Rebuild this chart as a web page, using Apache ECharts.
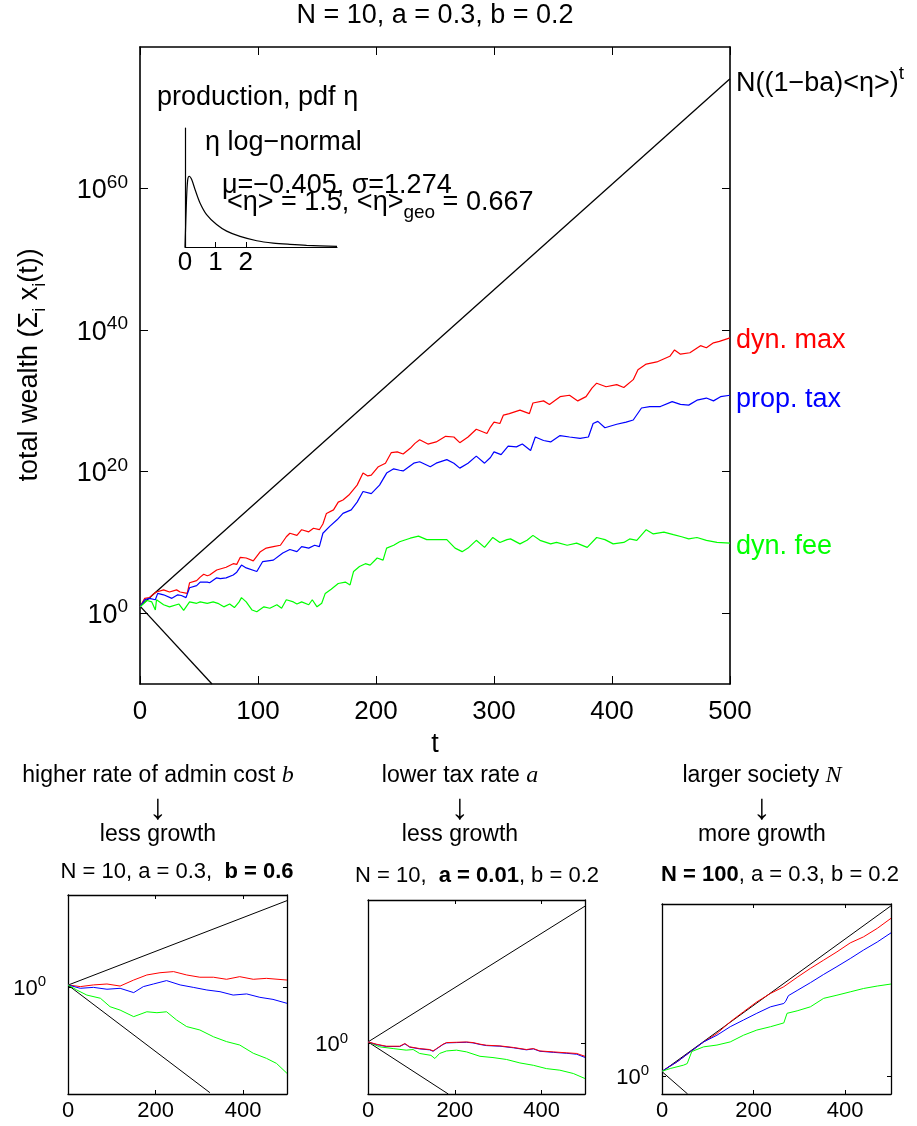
<!DOCTYPE html>
<html>
<head>
<meta charset="utf-8">
<script src="https://cdn.jsdelivr.net/npm/echarts@6/dist/echarts.min.js"></script>
<style>
  html, body { margin: 0; padding: 0; background: #fff; }
  #chart { width: 917px; height: 1126px; }
</style>
</head>
<body>
<div id="chart"></div>
<script>
const FONT = '"Liberation Sans", Arial, Helvetica, sans-serif';
const SERIF = '"Liberation Serif", "DejaVu Serif", serif';

// values are [t, log10(total wealth)]

// main panel: N = 10, a = 0.3, b = 0.2
const mainUpper = [[0, 1], [500, 75.5]];
const mainLower = [[0, 1], [61, -10]];
const mainMax = [[0,0.9],[4,2.1],[8,2.2],[12,2.8],[14,3.0],[20,3.3],[25,3.0],[31,3.3],[34,3.0],[40,2.8],[42,4.3],[48,4.6],[51,5.1],[54,5.5],[57,5.3],[59,5.4],[65,6.1],[73,6.5],[79,7.0],[82,6.9],[85,7.9],[90,7.8],[96,7.4],[102,8.7],[107,9.2],[113,9.4],[119,9.6],[124,10.8],[127,11.3],[133,11.0],[137,11.8],[143,11.5],[147,12.0],[152,11.8],[155,12.6],[158,14.1],[164,14.6],[168,15.7],[172,16.0],[177,16.7],[184,18.1],[189,19.8],[193,19.4],[196,19.5],[202,20.7],[208,21.2],[213,22.7],[218,22.8],[223,22.5],[229,23.3],[233,24.0],[237,24.5],[244,23.9],[251,24.2],[259,25.0],[266,24.9],[271,24.1],[278,24.9],[285,26.0],[294,25.4],[297,26.3],[300,27.0],[305,26.8],[308,28.0],[313,28.2],[322,28.7],[330,28.2],[333,29.7],[342,30.0],[347,29.5],[356,30.6],[364,30.8],[371,30.0],[378,30.6],[383,31.8],[387,32.5],[395,32.0],[404,32.3],[410,31.9],[418,33.0],[422,34.4],[429,35.2],[438,35.5],[449,36.3],[453,37.2],[458,36.6],[466,36.8],[475,37.8],[480,37.5],[486,38.2],[491,38.4],[500,38.9]];
const mainTax = [[0,0.9],[4,1.9],[8,2.1],[13,1.9],[15,2.8],[20,2.6],[27,2.1],[32,2.6],[35,2.5],[39,2.2],[42,3.6],[48,3.9],[51,4.4],[57,4.4],[59,4.3],[65,5.0],[68,4.9],[73,5.0],[79,5.4],[82,5.8],[86,6.8],[90,6.4],[99,5.9],[104,7.3],[113,7.5],[121,8.5],[127,9.0],[133,8.7],[137,9.4],[143,9.2],[148,9.6],[152,9.4],[155,11.3],[161,12.3],[167,13.2],[172,14.1],[179,14.6],[184,15.7],[189,17.2],[196,16.9],[203,18.1],[209,19.8],[215,20.4],[220,20.2],[223,20.1],[232,21.2],[237,21.4],[246,20.7],[251,21.2],[260,21.7],[266,21.2],[271,20.5],[278,21.2],[285,22.2],[292,21.2],[297,22.0],[300,22.8],[306,22.4],[312,23.6],[319,23.5],[324,23.9],[331,23.0],[335,24.9],[342,24.4],[348,24.2],[356,25.1],[364,24.9],[373,24.7],[380,24.9],[384,26.8],[388,27.1],[394,26.2],[404,26.7],[412,27.0],[418,27.3],[425,29.0],[432,29.2],[441,29.2],[451,29.9],[458,29.5],[465,29.4],[472,30.1],[480,30.4],[486,30.0],[492,30.6],[500,30.8]];
const mainFee = [[0,0.9],[6,1.8],[10,1.6],[13,0.45],[14,1.9],[20,1.2],[25,0.9],[33,1.3],[37,0.4],[38,0.2],[42,1.6],[48,1.4],[51,1.6],[57,1.4],[62,1.6],[66,1.4],[71,0.9],[76,1.3],[80,0.8],[84,1.6],[86,2.2],[90,1.6],[95,0.45],[99,0.2],[105,0.9],[110,0.7],[116,1.2],[120,0.7],[124,1.9],[130,1.6],[133,1.3],[137,1.6],[143,1.2],[146,1.9],[150,0.9],[154,1.4],[157,2.8],[162,3.4],[168,4.2],[174,4.4],[178,4.0],[181,5.9],[186,6.6],[191,7.0],[195,6.8],[201,7.8],[206,7.5],[209,9.2],[215,9.6],[220,10.1],[229,10.6],[236,10.9],[243,10.4],[251,10.4],[260,10.4],[267,9.2],[273,8.7],[278,9.2],[285,10.3],[292,9.3],[299,10.7],[305,10.0],[311,10.4],[314,10.5],[322,9.8],[328,10.3],[333,11.0],[339,10.3],[348,9.8],[353,10.0],[362,9.6],[370,9.9],[379,9.3],[387,10.7],[394,10.4],[401,9.8],[410,10.0],[415,10.5],[421,10.3],[429,11.8],[435,11.2],[444,11.45],[452,11.1],[459,10.8],[465,10.5],[472,10.7],[480,10.3],[489,10.0],[500,9.9]];
const mainTicks = [0, 20, 40, 60];

// small panel 1: b = 0.6
const hiBUpper = [[0, 1], [500, 46]];
const hiBLower = [[0, 1], [324, -56.3]];
const hiBMax = [[0,1.1],[28,0.2],[58,1.1],[89,1.6],[119,0.5],[150,3.7],[180,6.4],[210,7.6],[241,8.2],[271,6.4],[301,5.2],[332,5.2],[362,4.1],[392,5.5],[423,4.1],[453,4.6],[500,3.7]];
const hiBTax = [[0,1.1],[28,-0.7],[58,-0.2],[89,-1.2],[119,-0.7],[150,-3.0],[172,0.2],[195,1.6],[225,3.4],[256,1.1],[286,-0.2],[317,-1.6],[347,-2.5],[377,-4.3],[408,-3.7],[438,-5.5],[468,-6.6],[500,-8.7]];
const hiBFee = [[0,1.1],[20,-1.6],[43,-4.3],[74,-6.0],[96,-10.5],[119,-12.3],[150,-15.8],[180,-13.2],[203,-13.7],[225,-13.2],[248,-17.6],[271,-21.1],[301,-22.9],[332,-26.5],[362,-29.1],[392,-30.9],[423,-35.3],[453,-38.0],[476,-40.7],[500,-46]];

// small panel 2: a = 0.01
const loAUpper = [[0, 1], [500, 87.1]];
const loALower = [[0, 1], [185, -32]];
const loAMax = [[0,1.0],[19,-0.4],[42,-1.7],[73,-1.7],[85,0.0],[96,-2.1],[119,-3.2],[142,-3.8],[150,-4.7],[158,-3.2],[173,-0.4],[181,0.6],[204,0.8],[227,1.0],[242,0.6],[258,-0.4],[273,-1.1],[304,-1.5],[335,-2.5],[365,-3.8],[381,-3.2],[396,-4.7],[427,-5.3],[458,-5.9],[481,-6.3],[500,-8.1]];
const loATax = [[0,1.0],[19,-0.6],[42,-1.9],[73,-1.9],[85,-0.2],[96,-2.3],[119,-3.4],[142,-4.0],[150,-4.9],[158,-3.4],[173,-0.6],[181,0.4],[204,0.6],[227,0.8],[242,0.4],[258,-0.6],[273,-1.3],[304,-1.7],[335,-2.7],[365,-4.0],[381,-3.4],[396,-4.9],[427,-5.6],[458,-6.2],[481,-6.8],[500,-8.8]];
const loAFee = [[0,1.0],[27,-2.1],[58,-3.2],[88,-4.2],[104,-3.8],[119,-6.3],[145,-7.5],[154,-9.5],[165,-6.3],[181,-4.7],[204,-4.2],[227,-5.3],[258,-8.1],[288,-8.9],[319,-10.1],[350,-12.3],[381,-13.8],[411,-15.9],[442,-16.9],[473,-19.0],[500,-22.2]];

// small panel 3: N = 100
const bigNUpper = [[0, 2], [500, 76.2]];
const bigNLower = [[0, 2], [56, -8]];
const bigNMax = [[0,2.2],[33,6.4],[62,10.9],[91,15.3],[120,19.1],[149,24.3],[178,28.8],[207,33.2],[237,37.0],[266,40.0],[295,44.2],[324,48.2],[353,51.9],[382,55.6],[411,59.6],[440,62.3],[470,66.1],[500,70.6]];
const bigNTax = [[0,2.2],[33,6.4],[62,10.9],[91,15.3],[120,18.3],[149,22.1],[178,25.1],[207,28.1],[237,31.0],[266,32.5],[270,33.5],[276,36.0],[295,38.3],[324,41.8],[353,45.5],[382,49.0],[411,52.6],[440,56.4],[470,60.0],[500,64.1]];
const bigNFee = [[0,2.2],[18,3.4],[47,4.9],[55,5.6],[65,11.0],[69,11.6],[91,13.1],[120,13.9],[149,15.3],[178,18.3],[207,20.6],[237,22.1],[266,23.8],[273,28.1],[295,29.2],[324,31.0],[353,34.8],[382,36.2],[411,37.7],[440,39.2],[470,40.3],[500,41.2]];
const subXLabels = [0, 200, 400];

// inset: pdf of the production factor eta
const etaX   = [0, 0.05, 0.09, 0.14, 0.22, 0.33, 0.49, 0.71, 1.04, 1.37, 1.81, 2.36, 2.9, 3.45, 4.0, 5.0];
const etaPdf = [0, 0.72, 1.02, 1.07, 1.02, 0.87, 0.67, 0.49, 0.34, 0.24, 0.16, 0.095, 0.06, 0.04, 0.025, 0.01];

const RED = '#ff0000', BLUE = '#0000ff', GREEN = '#00ff00', BLACK = '#000000';

// matlab style boxed axes: bottom/top x, left/right y, ticks inside
function boxAxes(grid, o) {
    const line = { show: true, onZero: false, lineStyle: { color: BLACK, width: o.lw } };
    const tick = (vals) => Object.assign({ show: true, inside: true, length: o.tl, lineStyle: { color: BLACK, width: 1 } },
        vals ? { customValues: vals } : {});
    const rich = {
        b: { fontFamily: FONT, fontSize: o.yfs, color: BLACK, verticalAlign: 'bottom' },
        s: { fontFamily: FONT, fontSize: o.sfs, color: BLACK, verticalAlign: 'bottom', padding: [0, 0, o.sp, 0] }
    };
    const xLabel = { color: BLACK, fontFamily: FONT, fontSize: o.xfs, margin: o.xm };
    if (o.xLabels) xLabel.customValues = o.xLabels;
    return {
        xs: [
            { gridIndex: grid, type: 'value', min: 0, max: 500, interval: o.xStep, position: 'bottom',
              axisLine: line, axisTick: tick(), splitLine: { show: false }, axisLabel: xLabel },
            { gridIndex: grid, type: 'value', min: 0, max: 500, interval: o.xStep, position: 'top',
              axisLine: line, axisTick: tick(), splitLine: { show: false }, axisLabel: { show: false } }
        ],
        ys: [
            { gridIndex: grid, type: 'value', min: o.yMin, max: o.yMax, position: 'left',
              axisLine: line, axisTick: tick(o.yTicks), splitLine: { show: false },
              axisLabel: { customValues: o.yTicks, margin: o.ym, formatter: v => '{b|10}{s|' + v + '}', rich: rich } },
            { gridIndex: grid, type: 'value', min: o.yMin, max: o.yMax, position: 'right',
              axisLine: line, axisTick: tick(o.yTicks), splitLine: { show: false }, axisLabel: { show: false } }
        ]
    };
}

function ln(data, color, axis, width, label) {
    const s = {
        type: 'line', data: data, xAxisIndex: axis, yAxisIndex: axis,
        showSymbol: false, symbol: 'none', silent: true,
        lineStyle: { color: color, width: width }, itemStyle: { color: color },
        emphasis: { disabled: true }
    };
    if (label) {
        s.endLabel = Object.assign({ show: true, color: color, fontFamily: FONT, fontSize: 27, distance: 6 }, label);
    }
    return s;
}

const main = boxAxes(0, { lw: 1.6, tl: 8, xStep: 100, xfs: 26, xm: 15, yMin: -10, yMax: 80, yTicks: mainTicks, yfs: 27, sfs: 19, sp: 12, ym: 12 });
const subOpt = { lw: 1.3, tl: 4, xStep: 200, xLabels: subXLabels, xfs: 22, xm: 6, yTicks: [0], yfs: 22, sfs: 15, sp: 10 };
const p1 = boxAxes(1, Object.assign({}, subOpt, { yMin: -57, yMax: 49, ym: 22 }));
const p2 = boxAxes(2, Object.assign({}, subOpt, { yMin: -32, yMax: 91, ym: 20 }));
const p3 = boxAxes(3, Object.assign({}, subOpt, { yMin: -8, yMax: 77, ym: 13 }));

const insetX = { gridIndex: 4, type: 'value', min: 0, max: 5, position: 'bottom',
    axisLine: { show: true, onZero: false, lineStyle: { color: BLACK, width: 1.2 } },
    axisTick: { show: true, inside: true, length: 5, customValues: [1, 2], lineStyle: { color: BLACK } },
    axisLabel: { customValues: [0, 1, 2], color: BLACK, fontFamily: FONT, fontSize: 26, margin: 3 },
    splitLine: { show: false } };
const insetY = { gridIndex: 4, type: 'value', min: 0, max: 1.8, position: 'left',
    axisLine: { show: true, onZero: false, lineStyle: { color: BLACK, width: 1.2 } },
    axisTick: { show: false }, axisLabel: { show: false }, splitLine: { show: false } };

function txt(x, y, text, size, extra) {
    return { type: 'text', x: x, y: y, silent: true,
        style: Object.assign({ text: text, fill: BLACK, fontFamily: FONT, fontSize: size, align: 'center', verticalAlign: 'middle' }, extra || {}) };
}
const varStyle = { fontFamily: SERIF, fontStyle: 'italic', fontSize: 24 };
const annStyle = { fontFamily: FONT, fontSize: 23 };
const boldStyle = { fontFamily: FONT, fontSize: 22, fontWeight: 'bold' };
const normStyle = { fontFamily: FONT, fontSize: 22 };

const option = {
    animation: false,
    backgroundColor: '#fff',
    grid: [
        { left: 140, top: 47, width: 590, height: 637, outerBoundsMode: 'none' },
        { left: 68, top: 895, width: 219, height: 199, outerBoundsMode: 'none' },
        { left: 368, top: 900, width: 217, height: 194, outerBoundsMode: 'none' },
        { left: 662, top: 904, width: 229, height: 190, outerBoundsMode: 'none' },
        { left: 185, top: 128, width: 152, height: 119, outerBoundsMode: 'none' }
    ],
    xAxis: [].concat(main.xs, p1.xs, p2.xs, p3.xs, [insetX]),
    yAxis: [].concat(main.ys, p1.ys, p2.ys, p3.ys, [insetY]),
    series: [
        ln(mainUpper, BLACK, 0, 1.3, {
            formatter: '{a|N((1\u2212ba)<\u03b7>)}{s|t}', offset: [0, 2],
            rich: { a: { fontFamily: FONT, fontSize: 27, color: BLACK, verticalAlign: 'bottom' },
                    s: { fontFamily: FONT, fontSize: 19, color: BLACK, verticalAlign: 'bottom', padding: [0, 0, 14, 0] } } }),
        ln(mainLower, BLACK, 0, 1.3),
        ln(mainMax, RED, 0, 1.2, { formatter: 'dyn. max', offset: [0, 3] }),
        ln(mainTax, BLUE, 0, 1.2, { formatter: 'prop. tax', offset: [0, 4] }),
        ln(mainFee, GREEN, 0, 1.2, { formatter: 'dyn. fee', offset: [0, 3] }),

        ln(hiBUpper, BLACK, 2, 1), ln(hiBLower, BLACK, 2, 1),
        ln(hiBMax, RED, 2, 1), ln(hiBTax, BLUE, 2, 1), ln(hiBFee, GREEN, 2, 1),

        ln(loAUpper, BLACK, 4, 1), ln(loALower, BLACK, 4, 1),
        ln(loAFee, GREEN, 4, 1), ln(loATax, BLUE, 4, 1), ln(loAMax, RED, 4, 1),

        ln(bigNUpper, BLACK, 6, 1), ln(bigNLower, BLACK, 6, 1),
        ln(bigNMax, RED, 6, 1), ln(bigNTax, BLUE, 6, 1), ln(bigNFee, GREEN, 6, 1),

        Object.assign(ln(etaX.map((x, i) => [x, etaPdf[i]]), BLACK, 8, 1.2), { smooth: 0.3 })
    ],
    graphic: [
        txt(435, 16, 'N = 10, a = 0.3, b = 0.2', 27),
        txt(435, 745, 't', 27),
        Object.assign(txt(33, 365, '{a|total wealth (\u03a3}{i|i}{a| x}{i|i}{a|(t))}', 27, {
            rich: { a: { fontFamily: FONT, fontSize: 27, verticalAlign: 'top' },
                    i: { fontFamily: FONT, fontSize: 18, verticalAlign: 'top', padding: [15, 0, 0, 0] } } }),
            { rotation: Math.PI / 2 }),

        // inset annotations
        txt(157, 98, 'production, pdf \u03b7', 27, { align: 'left' }),
        txt(205, 143, '\u03b7 log\u2212normal', 27, { align: 'left' }),
        txt(222, 186, '\u03bc=\u22120.405, \u03c3=1.274', 27, { align: 'left' }),
        txt(227, 206, '{a|<\u03b7> = 1.5, <\u03b7>}{g|geo}{a| = 0.667}', 27, { align: 'left',
            rich: { a: { fontFamily: FONT, fontSize: 27, verticalAlign: 'top' },
                    g: { fontFamily: FONT, fontSize: 19, verticalAlign: 'top', padding: [14, 0, 0, 0] } } }),

        // panel headings
        txt(158, 776, '{a|higher rate of admin cost }{m|b}', 23, { rich: { a: annStyle, m: varStyle } }),
        txt(158, 809, '\u2193', 36),
        txt(158, 835, 'less growth', 23),
        txt(177, 872, '{n|N = 10, a = 0.3,  }{b|b = 0.6}', 22, { rich: { n: normStyle, b: boldStyle } }),

        txt(460, 776, '{a|lower tax rate }{m|a}', 23, { rich: { a: annStyle, m: varStyle } }),
        txt(460, 809, '\u2193', 36),
        txt(460, 835, 'less growth', 23),
        txt(477, 876, '{n|N = 10,  }{b|a = 0.01}{n|, b = 0.2}', 22, { rich: { n: normStyle, b: boldStyle } }),

        txt(762, 776, '{a|larger society }{m|N}', 23, { rich: { a: annStyle, m: varStyle } }),
        txt(762, 809, '\u2193', 36),
        txt(762, 835, 'more growth', 23),
        txt(780, 875, '{b|N = 100}{n|, a = 0.3, b = 0.2}', 22, { rich: { n: normStyle, b: boldStyle } })
    ]
};

const chart = echarts.init(document.getElementById('chart'), null, { renderer: 'canvas' });
chart.setOption(option);
window.addEventListener('resize', () => chart.resize());
</script>
</body>
</html>
